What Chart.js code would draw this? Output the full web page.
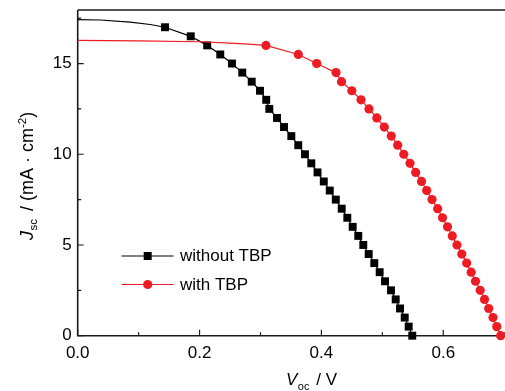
<!DOCTYPE html>
<html>
<head>
<meta charset="utf-8">
<script src="https://cdn.jsdelivr.net/npm/chart.js@4.4.1/dist/chart.umd.min.js"></script>
<style>
html,body{margin:0;padding:0;background:#fff;overflow:hidden;}
#wrap{width:505px;height:391px;position:relative;}
</style>
</head>
<body>
<div id="wrap"><canvas id="c" width="505" height="391"></canvas></div>
<script>
// ---- data ----
const seriesNames = ['without TBP', 'with TBP'];

// unmarked part of the "without TBP" curve
const withoutLeadV = [0.000, 0.037, 0.086, 0.119];
const withoutLeadJ = [17.42, 17.40, 17.28, 17.15];
// marked points of "without TBP"
const withoutV = [0.1433,0.1855,0.2125,0.2340,0.2532,0.2701,0.2856,0.2992,0.3094,0.3145,
                  0.3271,0.3386,0.3506,0.3620,0.3730,0.3834,0.3936,0.4039,0.4137,0.4236,
                  0.4333,0.4425,0.4513,0.4605,0.4687,0.4776,0.4868,0.4956,0.5044,0.5142,
                  0.5219,0.5290,0.5367,0.5432,0.5491];
const withoutJ = [17.0,16.5,16.0,15.5,15.0,14.5,14.0,13.5,13.0,12.5,
                  12.0,11.5,11.0,10.5,10.0,9.5,9.0,8.5,8.0,7.5,
                  7.0,6.5,6.0,5.5,5.0,4.5,4.0,3.5,3.0,2.5,
                  2.0,1.5,1.0,0.5,0.0];

// unmarked part of the "with TBP" curve
const withLeadV = [0.000, 0.100, 0.200, 0.250, 0.280];
const withLeadJ = [16.28, 16.25, 16.20, 16.12, 16.07];
// marked points of "with TBP"
const withV = [0.3090,0.3621,0.3923,0.4239,0.4330,0.4499,0.4650,0.4781,0.4909,0.5032,
               0.5147,0.5252,0.5352,0.5454,0.5547,0.5643,0.5728,0.5815,0.5908,0.5987,
               0.6069,0.6148,0.6225,0.6304,0.6384,0.6458,0.6529,0.6606,0.6677,0.6745,
               0.6816,0.6878,0.6942];
const withJ = [16.0,15.5,15.0,14.5,14.0,13.5,13.0,12.5,12.0,11.5,
               11.0,10.5,10.0,9.5,9.0,8.5,8.0,7.5,7.0,6.5,
               6.0,5.5,5.0,4.5,4.0,3.5,3.0,2.5,2.0,1.5,
               1.0,0.5,0.0];

const xTicks = [0, 0.1, 0.2, 0.3, 0.4, 0.5, 0.6, 0.7];
const xTickLabels = ['0.0', '', '0.2', '', '0.4', '', '0.6', ''];
const yTicks = [0, 2.5, 5, 7.5, 10, 12.5, 15, 17.5];
const yTickLabels = ['0', '', '5', '', '10', '', '15', ''];

// ---- build ----
const BLACK = '#000000';
const RED = '#ED1C24';
const FONT = 'Liberation Sans, Arial, Helvetica, sans-serif';

function pts(vs, js) { return vs.map((v, i) => ({x: v, y: js[i]})); }

const dsWithout = pts(withoutLeadV, withoutLeadJ).concat(pts(withoutV, withoutJ));
const dsWith = pts(withLeadV, withLeadJ).concat(pts(withV, withJ));

const frame = {
  id: 'frame',
  beforeDatasetsDraw(chart) {
    const {ctx, chartArea: a, scales} = chart;
    ctx.save();
    ctx.strokeStyle = '#1a1a1a';
    ctx.lineWidth = 1.6;
    ctx.beginPath();
    ctx.moveTo(a.left, a.top); ctx.lineTo(a.right + 2, a.top);
    ctx.moveTo(a.left, a.top); ctx.lineTo(a.left, a.bottom);
    ctx.moveTo(a.left - 0.8, a.bottom); ctx.lineTo(a.right + 2, a.bottom);
    ctx.stroke();
    ctx.lineWidth = 1.2;
    ctx.beginPath();
    xTicks.forEach((v, i) => {
      const px = scales.x.getPixelForValue(v);
      const len = xTickLabels[i] !== '' ? 6 : 3.5;
      ctx.moveTo(px, a.bottom); ctx.lineTo(px, a.bottom - len);
    });
    yTicks.forEach((v, i) => {
      const py = scales.y.getPixelForValue(v);
      const len = yTickLabels[i] !== '' ? 6 : 3.5;
      ctx.moveTo(a.left, py); ctx.lineTo(a.left + len, py);
    });
    ctx.stroke();
    ctx.restore();
  },
  afterDraw(chart) {
    const {ctx} = chart;
    ctx.save();
    ctx.fillStyle = '#000';
    ctx.textBaseline = 'alphabetic';
    ctx.textAlign = 'left';
    function rich(parts) {
      let x = 0;
      parts.forEach(p => {
        ctx.font = p.f;
        ctx.fillText(p.t, x, p.dy || 0);
        x += ctx.measureText(p.t).width + (p.gap || 0);
      });
    }
    // y-axis title (rotated)
    ctx.save();
    ctx.translate(33, 240);
    ctx.rotate(-Math.PI / 2);
    rich([
      {t: 'J', f: 'italic 18px ' + FONT, gap: 0.5},
      {t: 'sc', f: '11.5px ' + FONT, dy: 4, gap: 3},
      {t: ' / (mA \u00B7 cm', f: '18px ' + FONT},
      {t: '-2', f: '11.5px ' + FONT, dy: -7.5},
      {t: ')', f: '18px ' + FONT}
    ]);
    ctx.restore();
    // x-axis title
    ctx.save();
    ctx.translate(286, 385);
    rich([
      {t: 'V', f: 'italic 17px ' + FONT, gap: 0.5},
      {t: 'oc', f: '11px ' + FONT, dy: 5, gap: 2},
      {t: ' / V', f: '17px ' + FONT}
    ]);
    ctx.restore();
    // legend
    const items = [
      {name: seriesNames[0], color: BLACK, style: 'rect', y: 256},
      {name: seriesNames[1], color: RED, style: 'circle', y: 284.5}
    ];
    items.forEach(it => {
      ctx.strokeStyle = it.color;
      ctx.fillStyle = it.color;
      ctx.lineWidth = 1.2;
      ctx.beginPath();
      ctx.moveTo(121.5, it.y); ctx.lineTo(173.5, it.y);
      ctx.stroke();
      ctx.beginPath();
      if (it.style === 'rect') ctx.rect(147.7 - 4, it.y - 4, 8, 8);
      else ctx.arc(147.7, it.y, 4.6, 0, Math.PI * 2);
      ctx.fill();
      ctx.fillStyle = '#000';
      ctx.font = '17px ' + FONT;
      ctx.textBaseline = 'middle';
      ctx.fillText(it.name, 180, it.y + 0.5);
    });
    ctx.restore();
  }
};

const LEAD_W = withoutLeadV.length;
const LEAD_R = withLeadV.length;

new Chart(document.getElementById('c'), {
  type: 'line',
  data: {
    datasets: [
      {
        label: seriesNames[0],
        data: dsWithout,
        borderColor: BLACK,
        backgroundColor: BLACK,
        borderWidth: 1.2,
        pointStyle: 'rect',
        pointRadius: ctx => ctx.dataIndex < LEAD_W ? 0 : 5.6,
        pointBorderWidth: 0,
        tension: 0,
        clip: false,
        order: 2
      },
      {
        label: seriesNames[1],
        data: dsWith,
        borderColor: RED,
        backgroundColor: RED,
        borderWidth: 1.2,
        pointStyle: 'circle',
        pointRadius: ctx => ctx.dataIndex < LEAD_R ? 0 : 4.6,
        pointBorderWidth: 0,
        tension: 0,
        clip: false,
        order: 1
      }
    ]
  },
  options: {
    responsive: false,
    animation: false,
    events: [],
    layout: {autoPadding: false, padding: {left: 0, right: 0, top: 10, bottom: 0}},
    plugins: {legend: {display: false}, tooltip: {enabled: false}},
    scales: {
      x: {
        type: 'linear',
        min: 0,
        max: 0.7013,
        afterBuildTicks: s => { s.ticks = xTicks.map(v => ({value: v})); },
        afterFit: s => { s.height = 55.3; s.paddingLeft = 0; s.paddingRight = 0; },
        grid: {display: false, drawTicks: false},
        border: {display: false},
        ticks: {
          padding: 7,
          color: '#000',
          font: {family: FONT, size: 17},
          maxRotation: 0,
          autoSkip: false,
          callback: (v, i) => xTickLabels[i]
        }
      },
      y: {
        type: 'linear',
        min: 0,
        max: 17.95,
        afterBuildTicks: s => { s.ticks = yTicks.map(v => ({value: v})); },
        afterFit: s => { s.width = 77.7; s.paddingTop = 0; s.paddingBottom = 0; },
        grid: {display: false, drawTicks: false},
        border: {display: false},
        ticks: {
          padding: 6,
          color: '#000',
          font: {family: FONT, size: 17},
          autoSkip: false,
          callback: (v, i) => yTickLabels[i]
        }
      }
    }
  },
  plugins: [frame]
});
</script>
</body>
</html>
